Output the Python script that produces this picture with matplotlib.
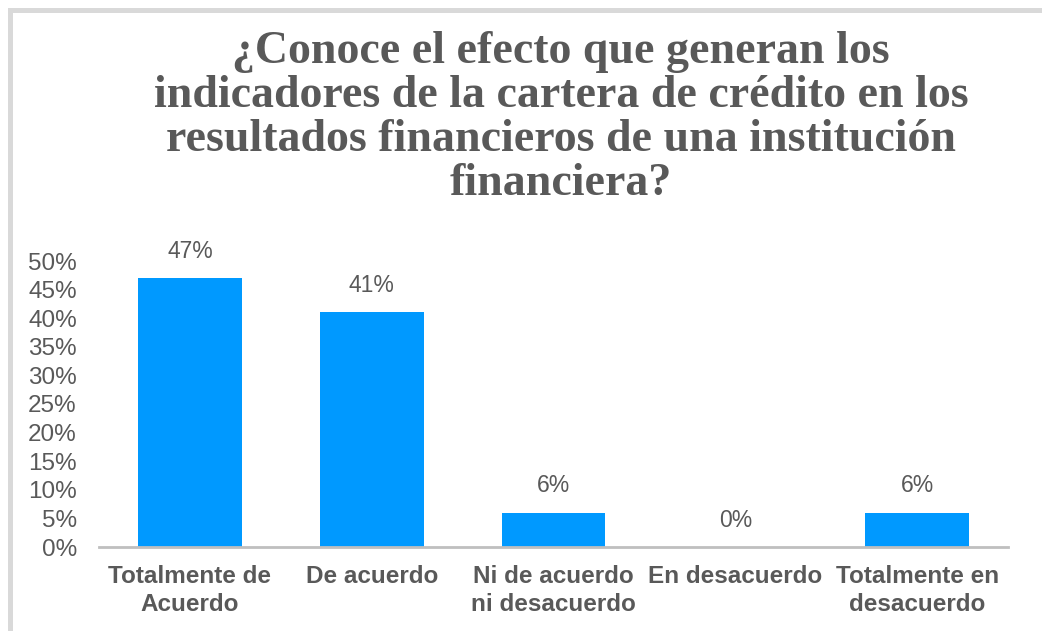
import matplotlib
matplotlib.use("Agg")
import matplotlib.pyplot as plt
from matplotlib.lines import Line2D
from matplotlib.ticker import PercentFormatter

categories = ["Totalmente de\nAcuerdo", "De acuerdo", "Ni de acuerdo\nni desacuerdo",
              "En desacuerdo", "Totalmente en\ndesacuerdo"]
values = [47, 41, 6, 0, 6]
yticks = [0, 5, 10, 15, 20, 25, 30, 35, 40, 45, 50]
title = "¿Conoce el efecto que generan los\nindicadores de la cartera de crédito en los\nresultados financieros de una institución\nfinanciera?"

TXT = "#595959"
BAR = "#0099FF"

W, H = 1042, 631
fig = plt.figure(figsize=(W / 100, H / 100), dpi=100)
fig.patch.set_facecolor("white")

# border lines (top and left visible)
fig.add_artist(Line2D([10 / W, 1.0], [1 - 9.5 / H, 1 - 9.5 / H], color="#D9D9D9", lw=3.6,
                      transform=fig.transFigure))
fig.add_artist(Line2D([10 / W, 10 / W], [0, 1 - 9.5 / H], color="#D9D9D9", lw=3.6,
                      transform=fig.transFigure))

ax = fig.add_axes([99 / W, (H - 547) / H, (1008 - 99) / W, (547 - 261) / H])
x = list(range(len(categories)))
bars = ax.bar(x, values, width=0.57, color=BAR, zorder=2)
ax.set_xlim(-0.5, len(categories) - 0.5)
ax.set_ylim(0, 50)
ax.set_yticks(yticks)
ax.yaxis.set_major_formatter(PercentFormatter(decimals=0))
ax.set_xticks(x)
ax.set_xticklabels(categories, fontsize=17.5, fontweight="bold", color=TXT,
                   family="Liberation Sans", linespacing=1.28)
for lab in ax.get_yticklabels():
    lab.set_fontsize(17.5)
    lab.set_color(TXT)
    lab.set_family("Liberation Sans")
ax.tick_params(axis="y", length=0, pad=16)
ax.tick_params(axis="x", length=0, pad=13)
for s in ["top", "right", "left"]:
    ax.spines[s].set_visible(False)
ax.spines["bottom"].set_color("#BFBFBF")
ax.spines["bottom"].set_linewidth(2)
ax.spines["bottom"].set_zorder(3)

for xi, v in zip(x, values):
    ax.annotate(f"{v}%", (xi, v), xytext=(0, 11), textcoords="offset points",
                ha="center", va="bottom", fontsize=16.5, color=TXT, family="Liberation Sans")

fig.text(561 / W, 1 - 118 / H, title, ha="center", va="center", fontsize=33,
         fontweight="bold", color=TXT, family="Liberation Serif", linespacing=1.06)

fig.savefig("out.png", dpi=100)
